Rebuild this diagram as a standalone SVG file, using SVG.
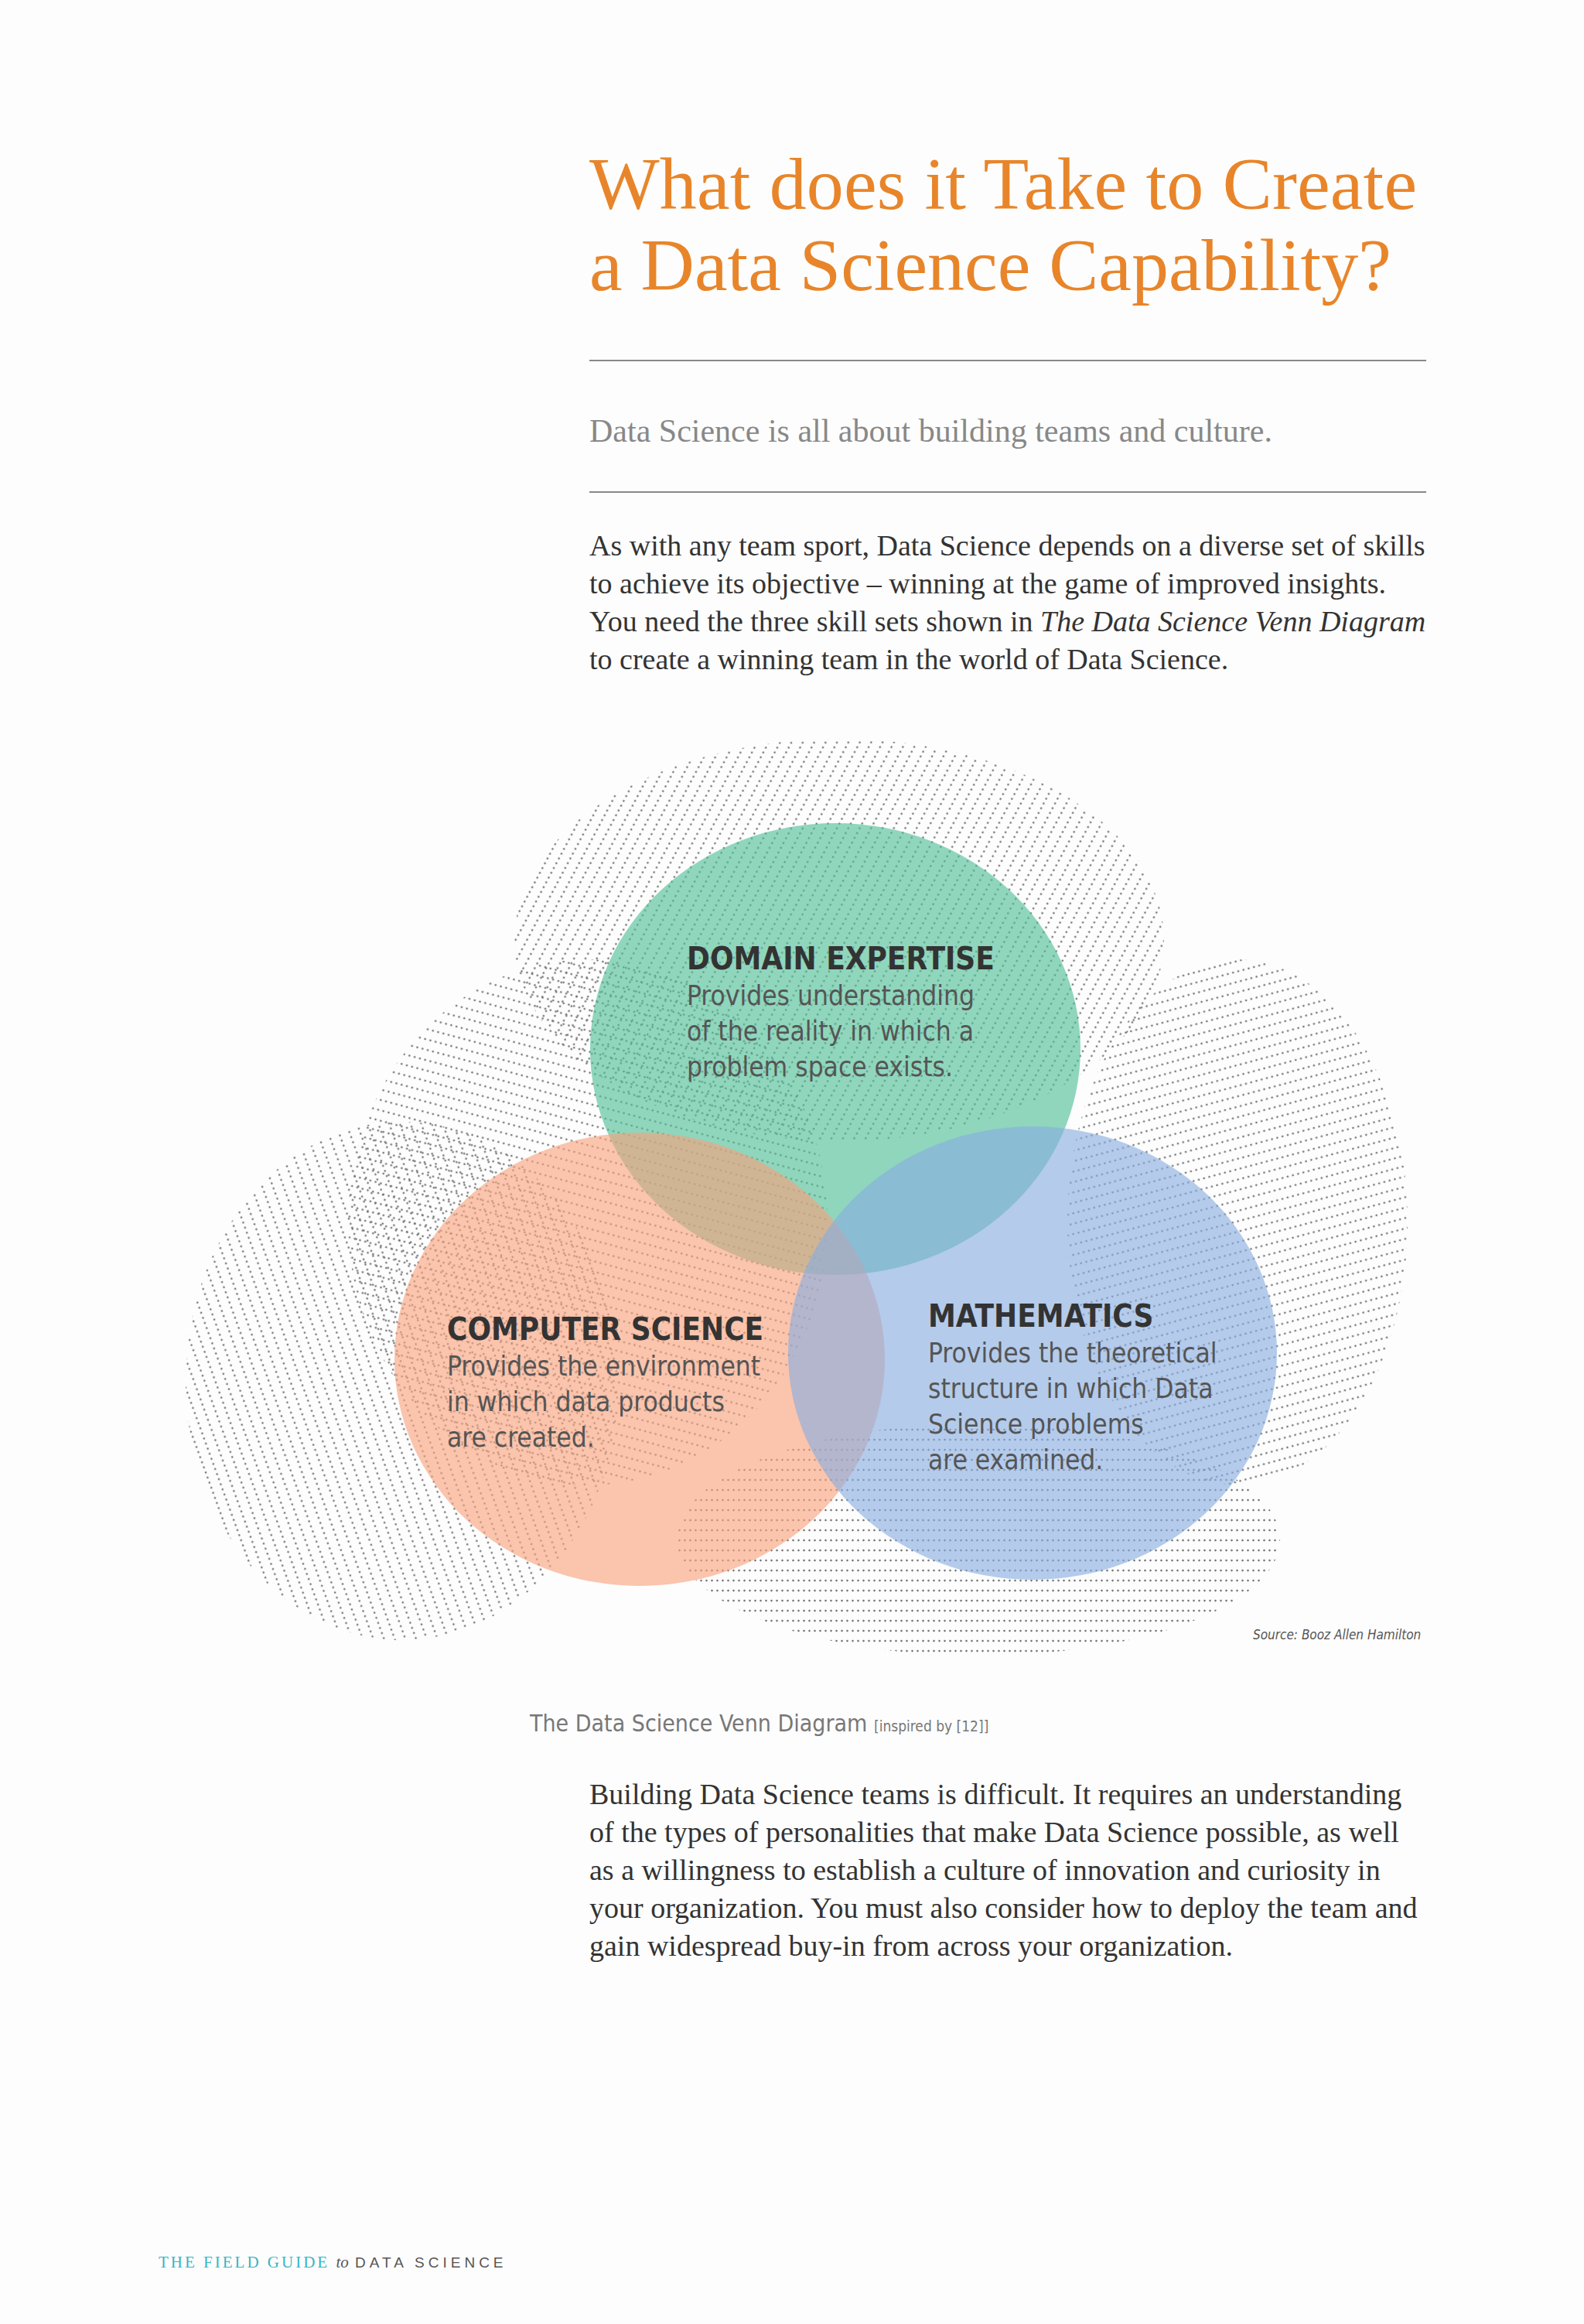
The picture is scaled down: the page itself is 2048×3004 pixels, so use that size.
<svg xmlns="http://www.w3.org/2000/svg" width="2048" height="3004" viewBox="0 0 2048 3004">
<style>
.serif{font-family:"Liberation Serif",serif}
.sans{font-family:"DejaVu Sans Condensed","Liberation Sans",sans-serif}
.hd{font-size:40px;font-weight:bold;fill:#333}
.bd{font-size:35px;fill:#555}
.p{font-size:38px;fill:#333}
</style>
<defs>
<pattern id="d1" width="13" height="7" patternUnits="userSpaceOnUse" patternTransform="rotate(28)"><circle cx="2" cy="3.5" r="1.3" fill="#444"/></pattern>
<pattern id="d2" width="13" height="7" patternUnits="userSpaceOnUse" patternTransform="rotate(-75)"><circle cx="2" cy="3.5" r="1.3" fill="#444"/></pattern>
<pattern id="d3" width="13" height="7" patternUnits="userSpaceOnUse" patternTransform="rotate(-20)"><circle cx="2" cy="3.5" r="1.3" fill="#444"/></pattern>
<pattern id="d4" width="13" height="7" patternUnits="userSpaceOnUse" patternTransform="rotate(75)"><circle cx="2" cy="3.5" r="1.3" fill="#444"/></pattern>
<pattern id="d5" width="13" height="7" patternUnits="userSpaceOnUse" patternTransform="rotate(90)"><circle cx="2" cy="3.5" r="1.3" fill="#444"/></pattern>
</defs>
<rect width="2048" height="3004" fill="#fdfdfd"/>
<g id="title" class="serif" fill="#e8852a" font-size="96">
<text x="762" y="270" textLength="1070">What does it Take to Create</text>
<text x="762" y="375">a Data Science Capability?</text>
</g>
<g id="rules" stroke="#888" stroke-width="2"><line x1="762" y1="466" x2="1844" y2="466"/><line x1="762" y1="636" x2="1844" y2="636"/></g>
<text id="subtitle" class="serif" x="762" y="571" font-size="42" fill="#888">Data Science is all about building teams and culture.</text>
<g id="intro" class="serif p">
<text x="762" y="718">As with any team sport, Data Science depends on a diverse set of skills</text>
<text x="762" y="767">to achieve its objective – winning at the game of improved insights.</text>
<text x="762" y="816">You need the three skill sets shown in <tspan font-style="italic">The Data Science Venn Diagram</tspan></text>
<text x="762" y="865">to create a winning team in the world of Data Science.</text>
</g>
<g id="halftone" opacity="0.75">
<ellipse cx="1085" cy="1215" rx="420" ry="260" fill="url(#d1)"/>
<ellipse cx="760" cy="1580" rx="310" ry="340" fill="url(#d2)"/>
<ellipse cx="520" cy="1785" rx="280" ry="335" fill="url(#d3)"/>
<ellipse cx="1600" cy="1580" rx="220" ry="340" fill="url(#d4)"/>
<ellipse cx="1265" cy="1990" rx="390" ry="150" fill="url(#d5)"/>
</g>
<g id="venn">
<ellipse id="domain" cx="1080" cy="1356" rx="317" ry="292" fill="#4cbf96" fill-opacity="0.62"/>
<ellipse id="cs" cx="827" cy="1757" rx="317" ry="293" fill="#f9a27c" fill-opacity="0.62"/>
<ellipse id="math" cx="1335" cy="1749" rx="316" ry="293" fill="#88ade0" fill-opacity="0.62"/>
</g>
<g id="labels" class="sans">
<text class="hd" x="888" y="1253">DOMAIN EXPERTISE</text>
<text class="bd" x="888" y="1299">Provides understanding</text>
<text class="bd" x="888" y="1345">of the reality in which a</text>
<text class="bd" x="888" y="1391">problem space exists.</text>
<text class="hd" x="578" y="1732">COMPUTER SCIENCE</text>
<text class="bd" x="578" y="1778">Provides the environment</text>
<text class="bd" x="578" y="1824">in which data products</text>
<text class="bd" x="578" y="1870">are created.</text>
<text class="hd" x="1200" y="1715">MATHEMATICS</text>
<text class="bd" x="1200" y="1761">Provides the theoretical</text>
<text class="bd" x="1200" y="1807">structure in which Data</text>
<text class="bd" x="1200" y="1853">Science problems</text>
<text class="bd" x="1200" y="1899">are examined.</text>
<text x="1620" y="2119" font-size="17" font-style="italic" fill="#555">Source: Booz Allen Hamilton</text>
<text x="685" y="2238" font-size="30" fill="#777">The Data Science Venn Diagram <tspan font-size="19">[inspired by [12]]</tspan></text>
</g>
<g id="closing" class="serif p">
<text x="762" y="2332">Building Data Science teams is difficult. It requires an understanding</text>
<text x="762" y="2381">of the types of personalities that make Data Science possible, as well</text>
<text x="762" y="2430">as a willingness to establish a culture of innovation and curiosity in</text>
<text x="762" y="2479">your organization. You must also consider how to deploy the team and</text>
<text x="762" y="2528">gain widespread buy-in from across your organization.</text>
</g>
<text id="footer" x="205" y="2931" font-family="Liberation Serif,serif" font-size="21" letter-spacing="3" fill="#3bb3c3">THE FIELD GUIDE <tspan font-style="italic" fill="#555" letter-spacing="0">to</tspan> <tspan font-family="Liberation Sans,sans-serif" font-size="19" fill="#555" letter-spacing="5">DATA SCIENCE</tspan></text>
</svg>
